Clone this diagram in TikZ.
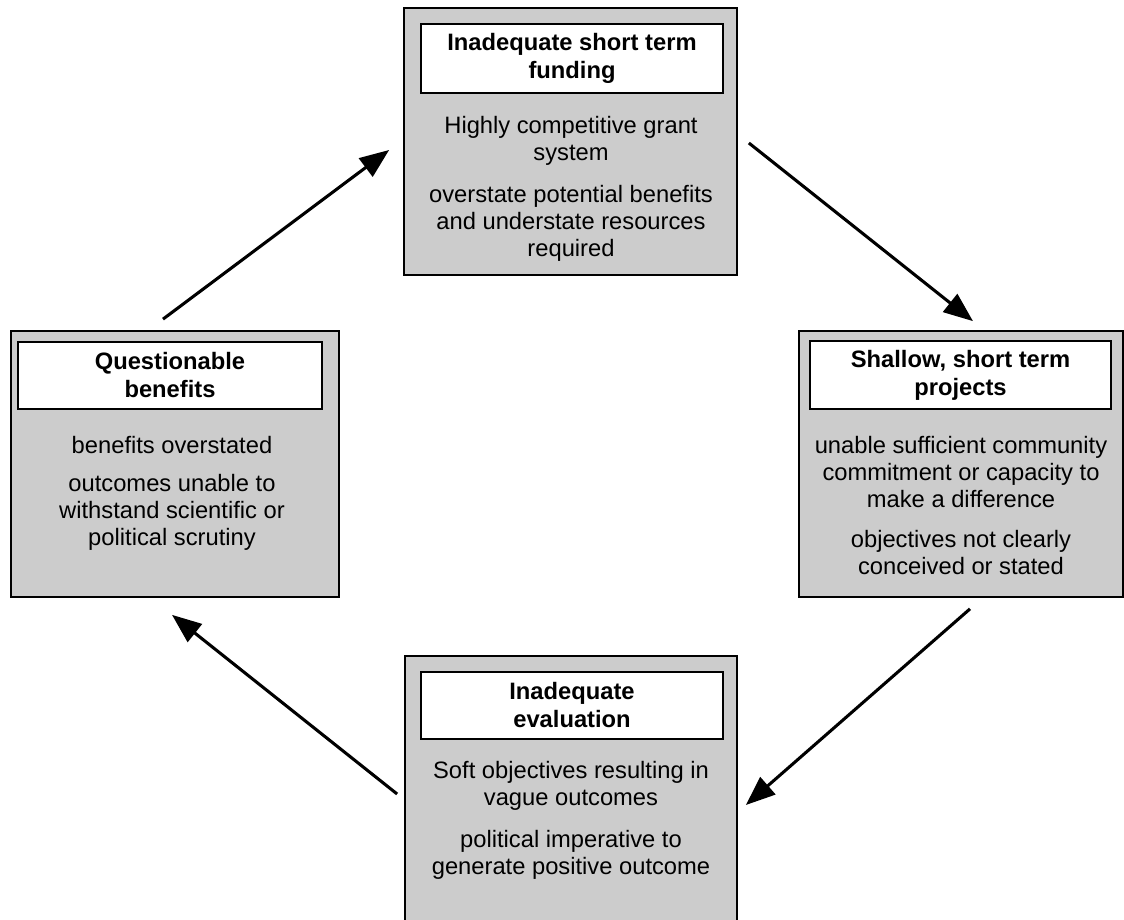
\documentclass[tikz,border=0pt]{standalone}
\usepackage{fontspec}
\setmainfont{Liberation Sans}
\usetikzlibrary{arrows.meta,calc}
\definecolor{panelgrey}{RGB}{204,204,204}
\tikzset{
  panel/.style={draw=black, line width=1.3pt, fill=panelgrey, inner sep=0pt},
  headbox/.style={draw=black, line width=1.3pt, fill=white, inner sep=0pt,
    align=center, font=\fontsize{17.8}{21}\selectfont\bfseries},
  bodytext/.style={align=center, inner sep=0pt,
    font=\fontsize{17.8}{20.25}\selectfont},
  cyclearrow/.style={line width=2.3pt, -{Triangle[length=22pt,width=17pt]}}
}
\begin{document}
\begin{tikzpicture}[x=0.75pt,y=-0.75pt]
\useasboundingbox (0,0) rectangle (1124,920);

% funding panel (top)
\node[panel, minimum width=249.75pt, minimum height=200.25pt] (top) at (570.5,141.5) {};
\node[headbox, minimum width=226.5pt, minimum height=51.75pt] (toph) at (572,58.5)
  {Inadequate short term\\funding};
\node[bodytext] (topb) at (571,188.5)
  {Highly competitive grant\\system\\[11.25pt]overstate potential benefits\\and understate resources\\required};

% projects panel (right)
\node[panel, minimum width=243pt, minimum height=199.5pt] (right) at (961,464) {};
\node[headbox, minimum width=225.75pt, minimum height=51pt] (righth) at (960.5,375)
  {Shallow, short term\\projects};
\node[bodytext] (rightb) at (961,506)
  {unable sufficient community\\commitment or capacity to\\make a difference\\[9.75pt]objectives not clearly\\conceived or stated};

% evaluation panel (bottom)
\node[panel, minimum width=249pt, minimum height=201pt] (bottom) at (571,790) {};
\node[headbox, minimum width=226.5pt, minimum height=50.25pt] (bottomh) at (572,705.5)
  {Inadequate\\evaluation};
\node[bodytext] (bottomb) at (571,820.5)
  {Soft objectives resulting in\\vague outcomes\\[11.25pt]political imperative to\\generate positive outcome};

% benefits panel (left)
\node[panel, minimum width=246pt, minimum height=199.5pt] (left) at (175,464) {};
\node[headbox, minimum width=228pt, minimum height=50.25pt] (lefth) at (170,375.5)
  {Questionable\\benefits};
\node[bodytext] (leftb) at (172,493.5)
  {benefits overstated\\[8.25pt]outcomes unable to\\withstand scientific or\\political scrutiny};

% cycle connectors
\draw[cyclearrow] ($(top.east)+(11,1.5)$) -- ($(right.north)+(12,-9)$);
\draw[cyclearrow] ($(right.south)+(9,11)$) -- ($(bottom.east)+(8,15)$);
\draw[cyclearrow] ($(bottom.west)+(-7,4)$) -- ($(left.south)+(-3,17)$);
\draw[cyclearrow] ($(left.north)+(-12,-11)$) -- ($(top.west)+(-14,8.5)$);
\end{tikzpicture}
\end{document}
